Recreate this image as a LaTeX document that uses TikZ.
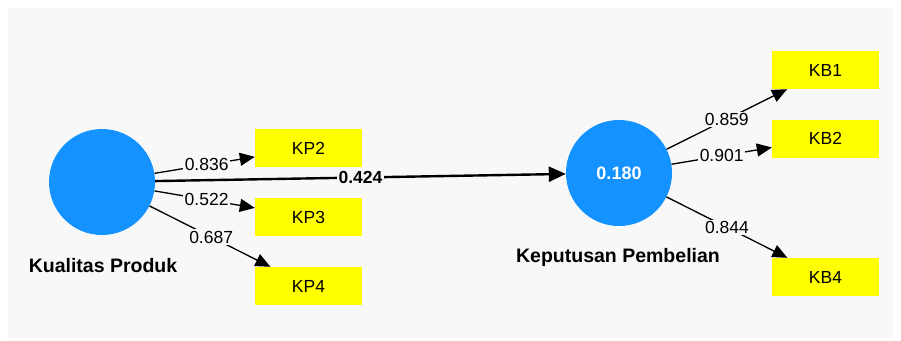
\documentclass[tikz,border=0pt]{standalone}
\usepackage{fontspec}
\setmainfont{Liberation Sans}
\usetikzlibrary{arrows.meta}
\definecolor{bggray}{HTML}{F8F8F8}
\definecolor{lvblue}{HTML}{1492FF}
\definecolor{indyellow}{HTML}{FFFF00}
\begin{document}
\begin{tikzpicture}[x=1pt,y=-1pt,
  latent/.style={circle,fill=lvblue,minimum size=106pt,inner sep=0pt,text=white,font=\fontsize{18}{20}\selectfont\bfseries},
  indbox/.style={rectangle,fill=indyellow,minimum width=107pt,minimum height=38pt,inner sep=0pt,font=\fontsize{17.5}{20}\selectfont},
  caption/.style={font=\fontsize{19.5}{22}\selectfont\bfseries,inner sep=0pt},
  loadarrow/.style={line width=1.3pt,-{Triangle[length=15pt,width=13pt]}},
  patharrow/.style={line width=2.4pt,-{Triangle[length=17pt,width=15pt]}},
  loadlabel/.style={fill=bggray,inner sep=1.5pt,font=\fontsize{17.5}{20}\selectfont},
  pathlabel/.style={fill=bggray,inner sep=1.5pt,font=\fontsize{17.5}{20}\selectfont\bfseries}]
\useasboundingbox (0,0) rectangle (901,340);
\fill[white] (0,0) rectangle (901,340);
\fill[bggray] (8,8) rectangle (893,338);

\node[latent] (KPc) at (102,182) {};
\node[latent] (KBc) at (619,173) {0.180};

\node[caption] (KPt) at (103,266) {Kualitas Produk};
\node[caption] (KBt) at (618,257) {Keputusan Pembelian};

\node[indbox] (KP2) at (308.5,148) {KP2};
\node[indbox] (KP3) at (308.5,217) {KP3};
\node[indbox] (KP4) at (308.5,286) {KP4};
\node[indbox] (KB1) at (825.5,70) {KB1};
\node[indbox] (KB2) at (825.5,138.5) {KB2};
\node[indbox] (KB4) at (825.5,277) {KB4};

\draw[loadarrow] (KPc) -- (KP2) node[loadlabel,pos=0.52] (L1) {0.836};
\draw[loadarrow] (KPc) -- (KP3) node[loadlabel,pos=0.52] (L2) {0.522};
\draw[loadarrow] (KPc) -- (KP4) node[loadlabel,pos=0.51] (L3) {0.687};
\draw[loadarrow] (KBc) -- (KB1) node[loadlabel,pos=0.5] (L4) {0.859};
\draw[loadarrow] (KBc) -- (KB2) node[loadlabel,pos=0.5] (L5) {0.901};
\draw[loadarrow] (KBc) -- (KB4) node[loadlabel,pos=0.5] (L6) {0.844};

\draw[patharrow] (KPc) -- (KBc) node[pathlabel,pos=0.5] (L0) {0.424};
\end{tikzpicture}
\end{document}
